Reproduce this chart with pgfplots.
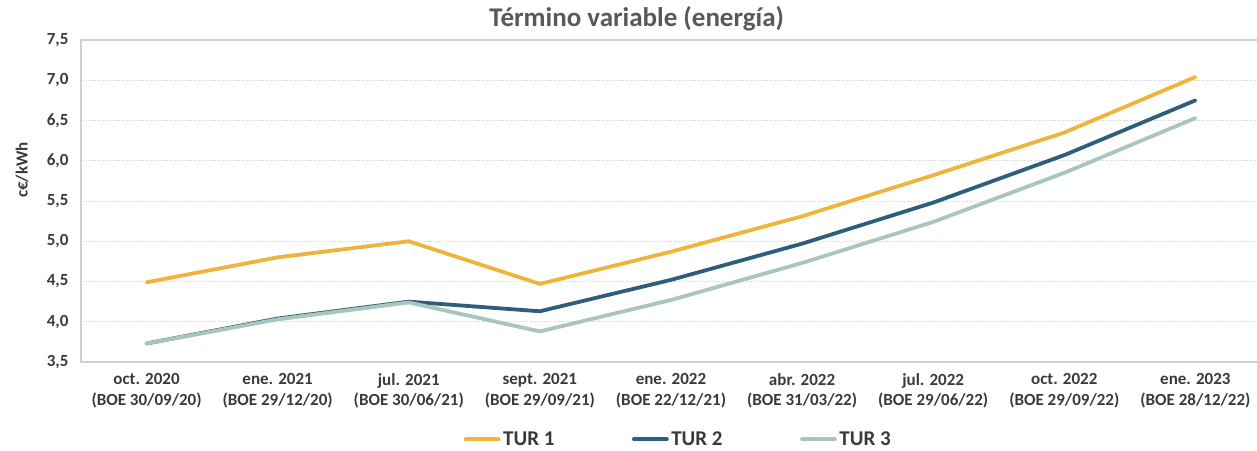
\documentclass[border=0pt]{standalone}
\usepackage{fontspec}
\setmainfont{Carlito}
\usepackage{pgfplots}
\pgfplotsset{compat=1.18}
\definecolor{tur1}{HTML}{F0B43C}
\definecolor{tur2}{HTML}{2F5D7C}
\definecolor{tur3}{HTML}{A8C5BE}
\definecolor{gridgray}{HTML}{D0D0D0}
\definecolor{labelgray}{HTML}{3A3A3A}
\definecolor{titlegray}{HTML}{595959}
\begin{document}
\begin{tikzpicture}[x=1pt,y=1pt]
\path[use as bounding box] (0,0) rectangle (1257,450);
\begin{axis}[
  at={(81pt,88pt)}, anchor=south west,
  scale only axis, width=1180pt, height=322pt,
  xmin=-0.5, xmax=8.5, ymin=3.5, ymax=7.5,
  xtick={0,1,2,3,4,5,6,7,8},
  xticklabels={{oct. 2020\\(BOE 30/09/20)},{ene. 2021\\(BOE 29/12/20)},{jul. 2021\\(BOE 30/06/21)},{sept. 2021\\(BOE 29/09/21)},{ene. 2022\\(BOE 22/12/21)},{abr. 2022\\(BOE 31/03/22)},{jul. 2022\\(BOE 29/06/22)},{oct. 2022\\(BOE 29/09/22)},{ene. 2023\\(BOE 28/12/22)}},
  xticklabel style={align=center, font=\fontsize{17}{20.5}\selectfont\bfseries, text=labelgray, yshift=-8pt},
  ytick={3.5,4.0,4.5,5.0,5.5,6.0,6.5,7.0,7.5},
  yticklabel style={font=\fontsize{17}{20}\selectfont\bfseries, text=labelgray, xshift=-9pt},
  major tick length=0pt,
  ymajorgrids,
  grid style={dotted, color=gridgray, line width=0.9pt},
  axis line style={gridgray, line width=1.3pt},
  title={Término variable (energía)},
  title style={at={(axis description cs:0.471,1)}, anchor=base, yshift=7pt, font=\fontsize{27}{32}\selectfont\bfseries, text=titlegray, inner sep=0pt},
  ylabel={c€/kWh},
  ylabel style={at={(axis description cs:-0.05,0.596)}, anchor=center, rotate=0, font=\fontsize{17}{20}\selectfont\bfseries, text=labelgray},
  legend columns=3,
  legend style={at={(axis description cs:0.506,-0.240)}, anchor=center, draw=none, fill=none,
    font=\fontsize{21}{22}\selectfont\bfseries, text=labelgray,
    inner sep=0pt,
    /tikz/every odd column/.append style={column sep=1pt},
    /tikz/every even column/.append style={column sep=76pt},
    nodes={inner sep=1.5pt}},
  legend image code/.code={\draw[#1, line cap=round] (0pt,0pt) -- (33pt,0pt);},
  /pgf/number format/use comma,
  /pgf/number format/fixed,
  /pgf/number format/fixed zerofill,
  /pgf/number format/precision=1,
  /pgf/number format/assume math mode=true,
]
\addplot[tur1, line width=3.8pt, line join=round, line cap=round] coordinates {
 (0,4.49) (1,4.80) (2,5.00) (3,4.47) (4,4.87) (5,5.31) (6,5.82) (7,6.35) (8,7.04)};
\addlegendentry{TUR 1}
\addplot[tur2, line width=3.8pt, line join=round, line cap=round] coordinates {
 (0,3.73) (1,4.04) (2,4.25) (3,4.13) (4,4.52) (5,4.97) (6,5.48) (7,6.07) (8,6.75)};
\addlegendentry{TUR 2}
\addplot[tur3, line width=3.8pt, line join=round, line cap=round] coordinates {
 (0,3.73) (1,4.03) (2,4.24) (3,3.88) (4,4.27) (5,4.73) (6,5.24) (7,5.85) (8,6.53)};
\addlegendentry{TUR 3}
\end{axis}
\end{tikzpicture}
\end{document}
